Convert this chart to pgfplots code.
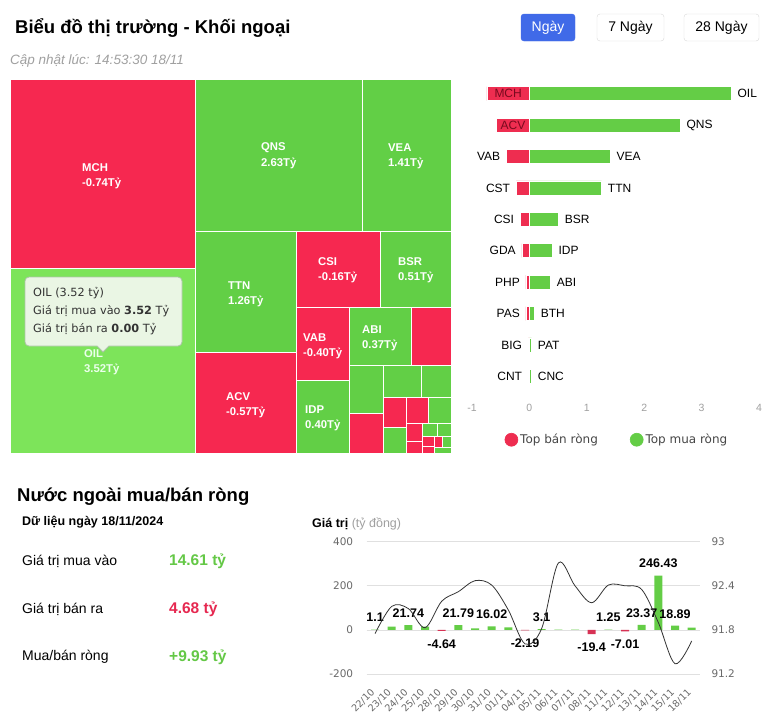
\documentclass[border=0pt]{standalone}
\usepackage{fontspec}
\setmainfont{Liberation Sans}
\newfontfamily\dejavu{DejaVu Sans}
\usepackage{pgfplots}
\pgfplotsset{compat=1.18}

\definecolor{tmred}{RGB}{246,40,80}
\definecolor{tmgreen}{RGB}{98,207,70}
\definecolor{tmhover}{RGB}{125,228,90}
\definecolor{bred}{RGB}{238,45,80}
\definecolor{bgreen}{RGB}{100,205,70}
\definecolor{cred}{RGB}{215,50,85}
\definecolor{darkred}{RGB}{120,10,30}
\definecolor{btnblue}{RGB}{64,106,232}
\definecolor{txtgray}{RGB}{160,160,160}
\definecolor{tickgray}{RGB}{105,105,105}
\definecolor{sumgreen}{RGB}{100,200,70}
\definecolor{sumred}{RGB}{230,40,80}
\definecolor{tipfill}{RGB}{234,246,228}
\definecolor{tipdraw}{RGB}{175,195,170}
\definecolor{legtext}{RGB}{70,70,70}

\newcommand{\rect}[5]{\addplot[draw=white, line width=1pt, fill=#5] coordinates {(#1,#2) (#3,#2) (#3,#4) (#1,#4)} -- cycle;}
\newcommand{\tml}[5]{%
 \node[anchor=west, inner sep=0pt, text=white, font=\bfseries\fontsize{11.3}{13}\selectfont] at (axis cs:#1,#2) {#4};
 \node[anchor=west, inner sep=0pt, text=white, font=\bfseries\fontsize{11.3}{13}\selectfont] at (axis cs:#1,#3) {#5};}

\begin{document}
\begin{tikzpicture}
\path[use as bounding box, fill=white] (0pt,0pt) rectangle (771pt,-724pt);

% ---------- header ----------
\node[anchor=west, inner sep=0pt, font=\bfseries\fontsize{18.5}{22}\selectfont] at (15pt,-27.5pt) {Biểu đồ thị trường - Khối ngoại};
\draw[btnblue, fill=btnblue, rounded corners=3pt] (521pt,-14pt) rectangle (575pt,-41pt);
\node[text=white, font=\fontsize{14}{16}\selectfont] at (548pt,-27.5pt) {Ngày};
\draw[gray!30, rounded corners=3pt] (597pt,-14pt) rectangle (664pt,-41pt);
\node[font=\fontsize{14}{16}\selectfont] at (630.5pt,-27.5pt) {7 Ngày};
\draw[gray!30, rounded corners=3pt] (684pt,-14pt) rectangle (759pt,-41pt);
\node[font=\fontsize{14}{16}\selectfont] at (721.5pt,-27.5pt) {28 Ngày};
\node[anchor=west, inner sep=0pt, text=txtgray, font=\itshape\fontsize{13.5}{16}\selectfont] at (10pt,-61pt) {Cập nhật lúc: 14:53:30 18/11};

% ---------- treemap ----------
\begin{axis}[at={(10pt,-79pt)}, anchor=north west, scale only axis,
  width=441pt, height=374pt, xmin=10, xmax=451, ymin=79, ymax=453,
  y dir=reverse, hide axis, clip=false]
\rect{10}{79}{195}{268}{tmred}
\rect{10}{268}{195}{453}{tmhover}
\rect{195}{79}{362}{231}{tmgreen}
\rect{362}{79}{451}{231}{tmgreen}
\rect{195}{231}{296}{352}{tmgreen}
\rect{195}{352}{296}{453}{tmred}
\rect{296}{231}{380}{307}{tmred}
\rect{380}{231}{451}{307}{tmgreen}
\rect{296}{307}{349}{380}{tmred}
\rect{296}{380}{349}{453}{tmgreen}
\rect{349}{307}{411}{365}{tmgreen}
\rect{411}{307}{451}{365}{tmred}
\rect{349}{365}{383}{413}{tmgreen}
\rect{383}{365}{421}{397}{tmgreen}
\rect{421}{365}{451}{397}{tmgreen}
\rect{349}{413}{383}{453}{tmred}
\rect{383}{397}{406}{427}{tmred}
\rect{383}{427}{406}{453}{tmgreen}
\rect{406}{397}{428}{423}{tmred}
\rect{428}{397}{451}{423}{tmgreen}
\rect{406}{423}{422}{441}{tmred}
\rect{406}{441}{422}{453}{tmred}
\rect{422}{423}{437}{436}{tmgreen}
\rect{437}{423}{451}{436}{tmgreen}
\rect{422}{436}{434}{446}{tmred}
\rect{434}{436}{442}{447}{tmred}
\rect{442}{436}{451}{447}{tmgreen}
\rect{422}{446}{434}{453}{tmred}
\rect{434}{447}{451}{453}{tmgreen}
\tml{82}{168}{183}{MCH}{-0.74Tỷ}
\tml{261}{148}{163}{QNS}{2.63Tỷ}
\tml{388}{148}{163}{VEA}{1.41Tỷ}
\tml{228}{286}{301}{TTN}{1.26Tỷ}
\tml{318}{262}{277}{CSI}{-0.16Tỷ}
\tml{398}{262}{277}{BSR}{0.51Tỷ}
\tml{303}{338}{353}{VAB}{-0.40Tỷ}
\tml{362}{330}{345}{ABI}{0.37Tỷ}
\tml{226}{397}{412}{ACV}{-0.57Tỷ}
\tml{305}{410}{425}{IDP}{0.40Tỷ}
\node[anchor=west, inner sep=0pt, text=white!92!green, font=\bfseries\fontsize{11.3}{13}\selectfont] at (axis cs:84,354) {OIL};
\node[anchor=west, inner sep=0pt, text=white!92!green, font=\bfseries\fontsize{11.3}{13}\selectfont] at (axis cs:84,369) {3.52Tỷ};
\end{axis}

% tooltip
\draw[tipdraw, fill=tipfill, line width=0.8pt] (29pt,-277pt) [rounded corners=4pt] -- (182pt,-277pt) -- (182pt,-346pt) [sharp corners] -- (109pt,-346pt) -- (103pt,-352pt) -- (97pt,-346pt) [rounded corners=4pt] -- (25pt,-346pt) -- (25pt,-277pt) -- (29pt,-277pt);
\begin{scope}[every node/.style={anchor=west, inner sep=0pt, text=black!80, font=\dejavu\fontsize{11.3}{13}\selectfont}]
\node at (33pt,-293pt) {OIL (3.52 tỷ)};
\node at (33pt,-311pt) {Giá trị mua vào \textbf{3.52} Tỷ};
\node at (33pt,-329pt) {Giá trị bán ra \textbf{0.00} Tỷ};
\end{scope}

% ---------- horizontal bars ----------
\begin{axis}[at={(472pt,-78pt)}, anchor=north west, scale only axis,
  width=287pt, height=314pt, xmin=-1, xmax=4, ymin=-0.5, ymax=9.5,
  y dir=reverse, axis line style={draw=none}, major tick length=0pt,
  xtick={-1,0,1,2,3,4}, ytick=\empty,
  /pgf/number format/assume math mode=true,
  xticklabel style={font=\fontsize{10.5}{12}\selectfont, text=txtgray, yshift=-9pt},
  clip=false,
  legend style={at={(0.505,-0.152)}, anchor=center, draw=none, fill=none,
    font=\dejavu\fontsize{12}{14}\selectfont, text=legtext,
    /tikz/every even column/.append style={column sep=30pt}},
  legend columns=2]
\addplot[xbar, bar width=14pt, bar shift=0pt, fill=bred, draw=white, line width=0.6pt,
  legend image code/.code={\fill[bred] (-3pt,0pt) circle (6.5pt);}]
  coordinates {(-0.74,0) (-0.57,1) (-0.40,2) (-0.23,3) (-0.16,4) (-0.13,5) (-0.06,6) (-0.06,7) (-0.02,8) (-0.02,9)};
\addlegendentry{Top bán ròng}
\addplot[xbar, bar width=14pt, bar shift=0pt, fill=bgreen, draw=white, line width=0.6pt,
  legend image code/.code={\fill[bgreen] (-3pt,0pt) circle (6.5pt);}]
  coordinates {(3.52,0) (2.63,1) (1.41,2) (1.26,3) (0.51,4) (0.40,5) (0.37,6) (0.09,7) (0.04,8) (0.04,9)};
\addlegendentry{Top mua ròng}
\begin{scope}[every node/.style={inner sep=0pt, font=\fontsize{12}{13}\selectfont}]
\node[text=darkred] at (axis cs:-0.37,0) {MCH};
\node[text=darkred] at (axis cs:-0.285,1) {ACV};
\node[anchor=east, xshift=-6pt] at (axis cs:-0.40,2) {VAB};
\node[anchor=east, xshift=-6pt] at (axis cs:-0.23,3) {CST};
\node[anchor=east, xshift=-6pt] at (axis cs:-0.16,4) {CSI};
\node[anchor=east, xshift=-6pt] at (axis cs:-0.13,5) {GDA};
\node[anchor=east, xshift=-6pt] at (axis cs:-0.06,6) {PHP};
\node[anchor=east, xshift=-6pt] at (axis cs:-0.06,7) {PAS};
\node[anchor=east, xshift=-6pt] at (axis cs:-0.02,8) {BIG};
\node[anchor=east, xshift=-6pt] at (axis cs:-0.02,9) {CNT};
\node[anchor=west, xshift=6pt] at (axis cs:3.52,0) {OIL};
\node[anchor=west, xshift=6pt] at (axis cs:2.63,1) {QNS};
\node[anchor=west, xshift=6pt] at (axis cs:1.41,2) {VEA};
\node[anchor=west, xshift=6pt] at (axis cs:1.26,3) {TTN};
\node[anchor=west, xshift=6pt] at (axis cs:0.51,4) {BSR};
\node[anchor=west, xshift=6pt] at (axis cs:0.40,5) {IDP};
\node[anchor=west, xshift=6pt] at (axis cs:0.37,6) {ABI};
\node[anchor=west, xshift=6pt] at (axis cs:0.09,7) {BTH};
\node[anchor=west, xshift=6pt] at (axis cs:0.04,8) {PAT};
\node[anchor=west, xshift=6pt] at (axis cs:0.04,9) {CNC};
\end{scope}
\end{axis}

% ---------- summary ----------
\node[anchor=west, inner sep=0pt, font=\bfseries\fontsize{18.5}{22}\selectfont] at (17pt,-497pt) {Nước ngoài mua/bán ròng};
\node[anchor=west, inner sep=0pt, font=\bfseries\fontsize{12.5}{15}\selectfont] at (22pt,-522pt) {Dữ liệu ngày 18/11/2024};
\node[anchor=west, inner sep=0pt, font=\fontsize{14}{17}\selectfont] at (22pt,-561pt) {Giá trị mua vào};
\node[anchor=west, inner sep=0pt, font=\bfseries\fontsize{15.5}{18}\selectfont, text=sumgreen] at (169pt,-561pt) {14.61 tỷ};
\node[anchor=west, inner sep=0pt, font=\fontsize{14}{17}\selectfont] at (22pt,-609pt) {Giá trị bán ra};
\node[anchor=west, inner sep=0pt, font=\bfseries\fontsize{15.5}{18}\selectfont, text=sumred] at (169pt,-609pt) {4.68 tỷ};
\node[anchor=west, inner sep=0pt, font=\fontsize{14}{17}\selectfont] at (22pt,-657pt) {Mua/bán ròng};
\node[anchor=west, inner sep=0pt, font=\bfseries\fontsize{15.5}{18}\selectfont, text=sumgreen] at (169pt,-657pt) {+9.93 tỷ};

\node[anchor=west, inner sep=0pt, font=\fontsize{12.5}{15}\selectfont] at (312pt,-524pt) {\textbf{Giá trị} \textcolor{txtgray}{(tỷ đồng)}};

% ---------- bottom chart ----------
\begin{axis}[at={(366.7pt,-541.7pt)}, anchor=north west, scale only axis,
  width=333.3pt, height=132.3pt, xmin=-0.5, xmax=19.5, ymin=-200, ymax=400,
  ytick={-200,0,200,400}, xtick={0,...,19},
  xticklabels={22/10,23/10,24/10,25/10,28/10,29/10,30/10,31/10,01/11,04/11,05/11,06/11,07/11,08/11,11/11,12/11,13/11,14/11,15/11,18/11},
  axis line style={draw=none}, major tick length=0pt,
  ymajorgrids, grid style={black!12, line width=0.8pt},
  /pgf/number format/assume math mode=true,
  yticklabel style={font=\dejavu\fontsize{10.5}{12}\selectfont, text=tickgray, xshift=-10pt},
  xticklabel style={font=\dejavu\fontsize{9.6}{11}\selectfont, text=tickgray, inner sep=0pt, yshift=-14pt, xshift=-5pt, rotate=45, anchor=north east},
  clip=false]
\addplot[ybar, bar width=8pt, bar shift=0pt, fill=bgreen, draw=none]
  coordinates {(0,1.1) (1,15) (2,21.74) (3,15) (5,21.79) (6,7) (7,16.02) (8,11) (10,3.1) (11,1.5) (12,0.8) (14,1.25) (16,23.37) (17,246.43) (18,18.89) (19,9.93)};
\addplot[ybar, bar width=8pt, bar shift=0pt, fill=cred, draw=none]
  coordinates {(4,-4.64) (9,-2.19) (13,-19.4) (15,-7.01)};
\begin{scope}[every node/.style={inner sep=0pt, font=\bfseries\fontsize{12.5}{14}\selectfont}]
\node[yshift=12pt] at (axis cs:0,1.1) {1.1};
\node[yshift=12pt] at (axis cs:2,21.74) {21.74};
\node[yshift=-13pt] at (axis cs:4,-4.64) {-4.64};
\node[yshift=12pt] at (axis cs:5,21.79) {21.79};
\node[yshift=12pt] at (axis cs:7,16.02) {16.02};
\node[yshift=-13pt] at (axis cs:9,-2.19) {-2.19};
\node[yshift=12pt] at (axis cs:10,3.1) {3.1};
\node[yshift=-13pt] at (axis cs:13,-19.4) {-19.4};
\node[yshift=12pt] at (axis cs:14,1.25) {1.25};
\node[yshift=-13pt] at (axis cs:15,-7.01) {-7.01};
\node[yshift=12pt] at (axis cs:16,23.37) {23.37};
\node[yshift=12pt] at (axis cs:17,246.43) {246.43};
\node[yshift=12pt] at (axis cs:18,18.89) {18.89};
\end{scope}
\end{axis}
\begin{axis}[at={(366.7pt,-541.7pt)}, anchor=north west, scale only axis,
  width=333.3pt, height=132.3pt, xmin=-0.5, xmax=19.5, ymin=91.2, ymax=93,
  hide x axis, axis y line*=right, axis line style={draw=none}, major tick length=0pt,
  ytick={91.2,91.8,92.4,93},
  /pgf/number format/assume math mode=true,
  /pgf/number format/fixed, /pgf/number format/precision=1,
  yticklabel style={font=\dejavu\fontsize{10.5}{12}\selectfont, text=tickgray, xshift=8pt},
  clip=false]
\addplot[smooth, tension=0.55, color=black!80, line width=0.8pt]
  coordinates {(0,91.75) (1,92.12) (2,92.09) (3,91.83) (4,92.19) (5,92.32) (6,92.47) (7,92.41) (8,92.07) (9,91.61) (10,91.82) (11,92.71) (12,92.40) (13,92.17) (14,92.41) (15,92.40) (16,92.35) (17,91.90) (18,91.34) (19,91.65)};
\end{axis}
\end{tikzpicture}
\end{document}
